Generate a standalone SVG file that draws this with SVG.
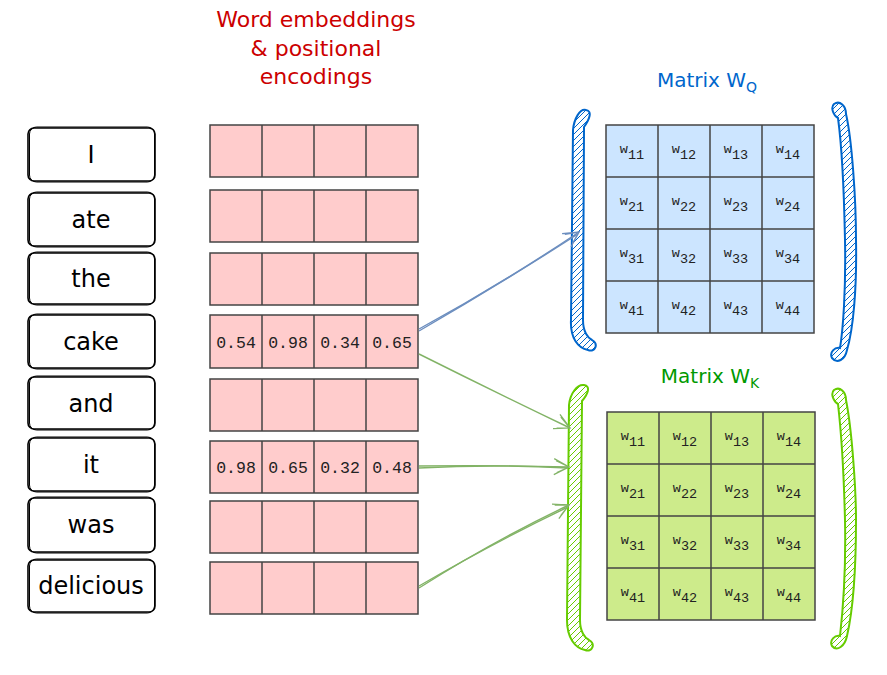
<svg xmlns="http://www.w3.org/2000/svg" width="887" height="675" viewBox="0 0 887 675">
<defs>
<style>
.hand{font-family:"DejaVu Sans","Liberation Sans",sans-serif;}
.title{font-size:22px;fill:#cc0000;text-anchor:middle;}
.mt{font-size:20px;text-anchor:middle;}
.wb{fill:#ffffff;stroke:#000;stroke-width:1.6;}
.wb2{fill:none;stroke:#000;stroke-width:1;}
.wt{font-size:24px;fill:#000;text-anchor:middle;}
.pk{fill:#ffcccc;stroke:#444;stroke-width:1.5;}
.gl{stroke:#444;stroke-width:1.5;fill:none;}
.num{font-family:"Liberation Mono","DejaVu Sans Mono",monospace;font-size:16.5px;fill:#222;text-anchor:middle;}
.mq{fill:#cce5ff;stroke:#444;stroke-width:1.5;}
.mk{fill:#cdeb8b;stroke:#444;stroke-width:1.5;}
.w{font-family:"Liberation Mono","DejaVu Sans Mono",monospace;font-size:13.5px;fill:#222;text-anchor:middle;}
.brq{fill:url(#hq);stroke:#0066cc;stroke-width:2;}
.brk{fill:url(#hk);stroke:#66cc00;stroke-width:2;}
.aq{fill:none;stroke:#6c8ebf;stroke-width:1.4;}
.ak{fill:none;stroke:#82b366;stroke-width:1.4;}
</style>
<pattern id="hq" patternUnits="userSpaceOnUse" width="6" height="6">
<path d="M0,6 L6,0 M-1,1 L1,-1 M5,7 L7,5" stroke="#0066cc" stroke-width="1"/>
</pattern>
<pattern id="hk" patternUnits="userSpaceOnUse" width="6" height="6">
<path d="M0,6 L6,0 M-1,1 L1,-1 M5,7 L7,5" stroke="#66cc00" stroke-width="1"/>
</pattern>
<marker id="mq" markerUnits="userSpaceOnUse" markerWidth="18" markerHeight="18" refX="15" refY="8" orient="auto" overflow="visible">
<path d="M0,0 L15,8 L0,16 M2,2 L15,8 L3,14" fill="none" stroke="#6c8ebf" stroke-width="1.3"/>
</marker>
<marker id="mk" markerUnits="userSpaceOnUse" markerWidth="18" markerHeight="18" refX="15" refY="8" orient="auto" overflow="visible">
<path d="M0,0 L15,8 L0,16 M2,2 L15,8 L3,14" fill="none" stroke="#82b366" stroke-width="1.3"/>
</marker>
</defs>

<g id="title-embeddings">
<text class="hand title" x="316" y="27">Word embeddings</text>
<text class="hand title" x="316" y="56">&amp; positional</text>
<text class="hand title" x="316" y="84">encodings</text>
</g>

<g id="words">
<g id="w-I"><rect class="wb" x="28" y="128" width="127" height="53" rx="6"/><rect class="wb2" x="29.5" y="127" width="125" height="55" rx="7"/><text class="hand wt" x="91" y="163">I</text></g>
<g id="w-ate"><rect class="wb" x="28" y="193" width="127" height="53" rx="6"/><rect class="wb2" x="29.5" y="192" width="125" height="55" rx="7"/><text class="hand wt" x="91" y="228">ate</text></g>
<g id="w-the"><rect class="wb" x="28" y="253" width="127" height="51" rx="6"/><rect class="wb2" x="29.5" y="252" width="125" height="53" rx="7"/><text class="hand wt" x="91" y="287">the</text></g>
<g id="w-cake"><rect class="wb" x="28" y="315" width="127" height="53" rx="6"/><rect class="wb2" x="29.5" y="314" width="125" height="55" rx="7"/><text class="hand wt" x="91" y="350">cake</text></g>
<g id="w-and"><rect class="wb" x="28" y="377" width="127" height="52" rx="6"/><rect class="wb2" x="29.5" y="376" width="125" height="54" rx="7"/><text class="hand wt" x="91" y="412">and</text></g>
<g id="w-it"><rect class="wb" x="28" y="438" width="127" height="53" rx="6"/><rect class="wb2" x="29.5" y="437" width="125" height="55" rx="7"/><text class="hand wt" x="91" y="473">it</text></g>
<g id="w-was"><rect class="wb" x="28" y="498" width="127" height="54" rx="6"/><rect class="wb2" x="29.5" y="497" width="125" height="56" rx="7"/><text class="hand wt" x="91" y="533">was</text></g>
<g id="w-delicious"><rect class="wb" x="28" y="560" width="127" height="52" rx="6"/><rect class="wb2" x="29.5" y="559" width="125" height="54" rx="7"/><text class="hand wt" x="91" y="594">delicious</text></g>
</g>

<g id="embeddings">
<g id="e1"><rect class="pk" x="210" y="125" width="208" height="52"/><path class="gl" d="M262,125V177M314,125V177M366,125V177"/></g>
<g id="e2"><rect class="pk" x="210" y="190" width="208" height="52"/><path class="gl" d="M262,190V242M314,190V242M366,190V242"/></g>
<g id="e3"><rect class="pk" x="210" y="253" width="208" height="52"/><path class="gl" d="M262,253V305M314,253V305M366,253V305"/></g>
<g id="e4"><rect class="pk" x="210" y="315" width="208" height="53"/><path class="gl" d="M262,315V368M314,315V368M366,315V368"/>
<text class="num" x="236" y="348">0.54</text><text class="num" x="288" y="348">0.98</text><text class="num" x="340" y="348">0.34</text><text class="num" x="392" y="348">0.65</text></g>
<g id="e5"><rect class="pk" x="210" y="379" width="208" height="52"/><path class="gl" d="M262,379V431M314,379V431M366,379V431"/></g>
<g id="e6"><rect class="pk" x="210" y="441" width="208" height="52"/><path class="gl" d="M262,441V493M314,441V493M366,441V493"/>
<text class="num" x="236" y="473">0.98</text><text class="num" x="288" y="473">0.65</text><text class="num" x="340" y="473">0.32</text><text class="num" x="392" y="473">0.48</text></g>
<g id="e7"><rect class="pk" x="210" y="501" width="208" height="52"/><path class="gl" d="M262,501V553M314,501V553M366,501V553"/></g>
<g id="e8"><rect class="pk" x="210" y="562" width="208" height="52"/><path class="gl" d="M262,562V614M314,562V614M366,562V614"/></g>
</g>

<g id="matrix-q">
<text class="hand mt" x="707" y="87" fill="#0066cc">Matrix W<tspan font-size="14" dy="5">Q</tspan></text>
<path class="brq" d="M586,110 C593,111 589,120 584,127 L583,320 C583,332 588,338 592,340 C599,344 595,353 588,350 C578,348 570,338 571,320 L573,130 C574,119 580,108 586,110 Z"/>
<path class="brq" d="M834,104 C840,100 846,106 846,114 C852,140 856,200 856,240 C857,290 853,330 847,350 C845,360 837,364 832,358 C829,352 835,347 840,348 C843,330 846,290 845,240 C844,190 841,140 838,118 C834,116 830,108 834,104 Z"/>
<rect class="mq" x="606" y="125" width="208" height="208"/>
<path class="gl" d="M658,125V333M710,125V333M762,125V333M606,177H814M606,229H814M606,281H814"/>
<g class="w">
<text x="632" y="153">w<tspan dy="6">11</tspan></text><text x="684" y="153">w<tspan dy="6">12</tspan></text><text x="736" y="153">w<tspan dy="6">13</tspan></text><text x="788" y="153">w<tspan dy="6">14</tspan></text>
<text x="632" y="205">w<tspan dy="6">21</tspan></text><text x="684" y="205">w<tspan dy="6">22</tspan></text><text x="736" y="205">w<tspan dy="6">23</tspan></text><text x="788" y="205">w<tspan dy="6">24</tspan></text>
<text x="632" y="257">w<tspan dy="6">31</tspan></text><text x="684" y="257">w<tspan dy="6">32</tspan></text><text x="736" y="257">w<tspan dy="6">33</tspan></text><text x="788" y="257">w<tspan dy="6">34</tspan></text>
<text x="632" y="309">w<tspan dy="6">41</tspan></text><text x="684" y="309">w<tspan dy="6">42</tspan></text><text x="736" y="309">w<tspan dy="6">43</tspan></text><text x="788" y="309">w<tspan dy="6">44</tspan></text>
</g>
</g>

<g id="matrix-k">
<text class="hand mt" x="710" y="383" fill="#009900">Matrix W<tspan font-size="14" dy="5">K</tspan></text>
<path class="brk" d="M584,385 C591,386 588,394 582,401 L580,620 C580,632 585,638 589,640 C596,644 592,653 585,650 C575,648 567,638 567,620 L569,405 C570,394 577,384 584,385 Z"/>
<path class="brk" d="M834,390 C840,386 846,392 846,400 C852,430 856,490 856,520 C856,570 853,610 847,636 C845,646 837,652 832,646 C829,640 835,635 840,636 C843,610 846,570 845,520 C844,480 841,430 838,404 C834,402 830,394 834,390 Z"/>
<rect class="mk" x="607" y="412" width="208" height="208"/>
<path class="gl" d="M659,412V620M711,412V620M763,412V620M607,464H815M607,516H815M607,568H815"/>
<g class="w">
<text x="633" y="440">w<tspan dy="6">11</tspan></text><text x="685" y="440">w<tspan dy="6">12</tspan></text><text x="737" y="440">w<tspan dy="6">13</tspan></text><text x="789" y="440">w<tspan dy="6">14</tspan></text>
<text x="633" y="492">w<tspan dy="6">21</tspan></text><text x="685" y="492">w<tspan dy="6">22</tspan></text><text x="737" y="492">w<tspan dy="6">23</tspan></text><text x="789" y="492">w<tspan dy="6">24</tspan></text>
<text x="633" y="544">w<tspan dy="6">31</tspan></text><text x="685" y="544">w<tspan dy="6">32</tspan></text><text x="737" y="544">w<tspan dy="6">33</tspan></text><text x="789" y="544">w<tspan dy="6">34</tspan></text>
<text x="633" y="596">w<tspan dy="6">41</tspan></text><text x="685" y="596">w<tspan dy="6">42</tspan></text><text x="737" y="596">w<tspan dy="6">43</tspan></text><text x="789" y="596">w<tspan dy="6">44</tspan></text>
</g>
</g>

<g id="connectors">
<path class="aq" d="M419,329 Q500,285 579,232" marker-end="url(#mq)"/>
<path class="aq" d="M419,331 Q500,284 578,234" stroke-width="0.8"/>
<path class="ak" d="M419,354 Q495,392 570,428" marker-end="url(#mk)"/>
<path class="ak" d="M419,466 Q495,465 569,467" marker-end="url(#mk)"/>
<path class="ak" d="M419,468 Q495,464 568,468" stroke-width="0.8"/>
<path class="ak" d="M419,588 Q495,540 569,505" marker-end="url(#mk)"/>
<path class="ak" d="M419,586 Q495,542 568,507" stroke-width="0.8"/>
</g>
</svg>
